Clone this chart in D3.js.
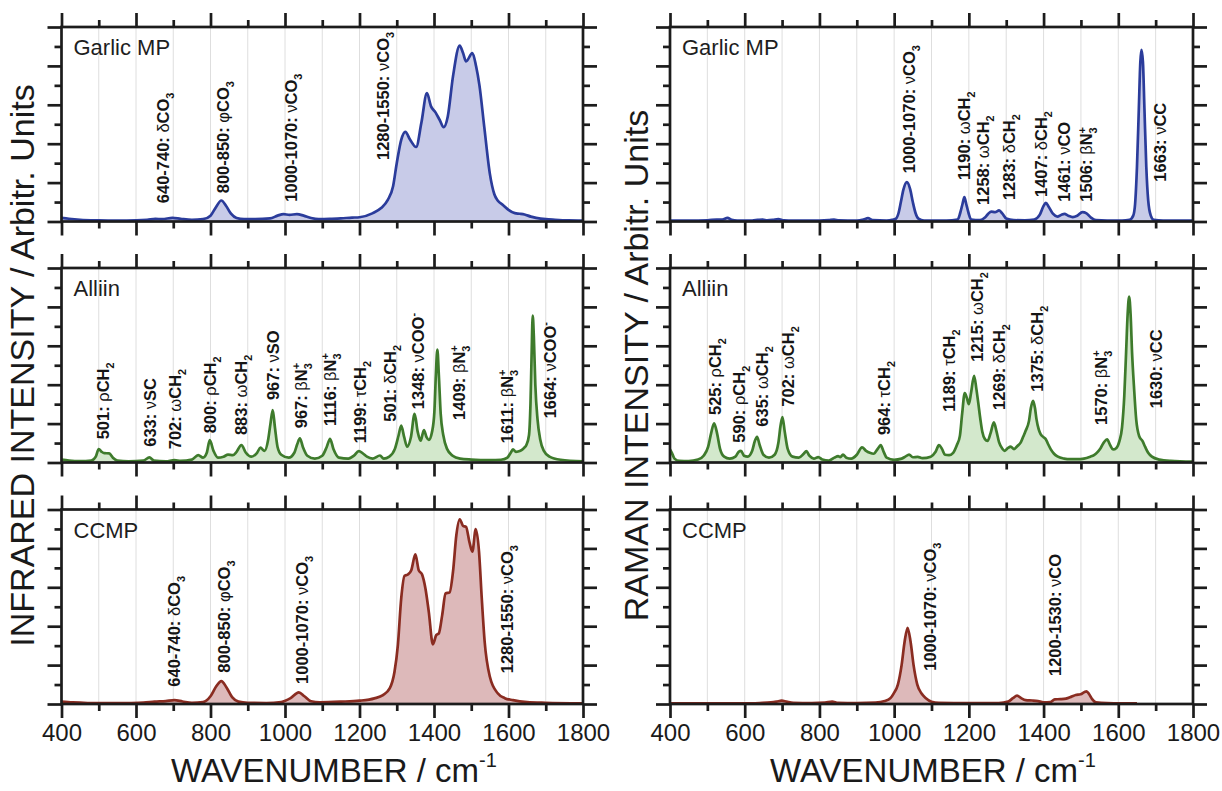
<!DOCTYPE html>
<html>
<head>
<meta charset="utf-8">
<script src="https://cdn.jsdelivr.net/npm/d3@7"></script>
<style>
  body { margin: 0; background: #fff; }
  svg { display: block; }
  text { font-family: "Liberation Sans", Arial, Helvetica, sans-serif; }
</style>
</head>
<body>
<svg id="chart" width="1222" height="791"></svg>
<script>
// ---------------- data: spectra as [wavenumber (cm-1), intensity (arb., 0-10)] ----------------
const wavenumberTicks = [400, 500, 600, 700, 800, 900, 1000, 1100, 1200, 1300, 1400, 1500, 1600, 1700, 1800];
const wavenumberLabels = ["400", "600", "800", "1000", "1200", "1400", "1600", "1800"];
const intensityTicks = [0, 1, 2, 3, 4, 5, 6, 7, 8, 9, 10];

const irGarlic = [[400,0.19],[420,0.14],[450,0.09],[500,0.06],[550,0.05],[600,0.06],[630,0.09],[652,0.14],[670,0.12],[698,0.19],[720,0.14],[750,0.09],[780,0.12],[800,0.3],[815,0.75],[829,1.08],[842,0.8],[855,0.4],[870,0.18],[890,0.12],[920,0.12],[960,0.16],[980,0.3],[996,0.38],[1012,0.34],[1032,0.38],[1050,0.3],[1070,0.18],[1090,0.12],[1120,0.13],[1150,0.16],[1180,0.2],[1200,0.22],[1236,0.43],[1258,0.69],[1276,1.11],[1290,1.8],[1300,3.0],[1312,4.2],[1323,4.61],[1336,4.2],[1352,3.83],[1366,5.06],[1381,6.6],[1392,5.92],[1404,5.61],[1415,5.23],[1426,4.85],[1437,5.4],[1451,7.46],[1469,9.04],[1478,8.66],[1486,8.23],[1503,8.66],[1513,7.98],[1522,7.0],[1535,4.85],[1550,2.45],[1562,1.4],[1571,1.08],[1585,0.85],[1600,0.6],[1617,0.43],[1630,0.4],[1643,0.36],[1660,0.25],[1674,0.19],[1700,0.12],[1725,0.09],[1760,0.06],[1800,0.05]];

const irAlliin = [[400,0.15],[420,0.1],[450,0.07],[480,0.1],[492,0.3],[500,0.69],[508,0.55],[515,0.48],[528,0.47],[538,0.25],[550,0.1],[580,0.06],[620,0.1],[636,0.26],[648,0.1],[680,0.06],[703,0.12],[720,0.08],[750,0.15],[767,0.38],[780,0.25],[790,0.5],[798,1.15],[808,0.6],[820,0.25],[835,0.3],[847,0.4],[860,0.38],[870,0.55],[883,0.9],[895,0.5],[910,0.3],[925,0.5],[934,0.76],[945,0.6],[955,1.2],[961,2.0],[967,2.7],[973,1.8],[980,0.8],[990,0.4],[1010,0.25],[1025,0.5],[1033,0.95],[1040,1.24],[1048,0.8],[1060,0.35],[1080,0.2],[1100,0.35],[1112,0.8],[1121,1.22],[1130,0.7],[1145,0.25],[1170,0.2],[1185,0.35],[1198,0.59],[1210,0.45],[1220,0.3],[1235,0.2],[1255,0.36],[1265,0.2],[1280,0.3],[1295,0.7],[1305,1.4],[1312,1.9],[1320,1.3],[1328,0.81],[1338,1.3],[1348,2.5],[1356,1.6],[1364,1.12],[1373,1.67],[1380,1.3],[1386,1.16],[1395,1.6],[1401,2.6],[1405,4.5],[1409,5.8],[1413,4.5],[1418,2.5],[1425,1.4],[1435,0.7],[1450,0.35],[1470,0.2],[1500,0.15],[1550,0.12],[1580,0.14],[1597,0.25],[1606,0.5],[1612,0.67],[1620,0.55],[1632,0.6],[1642,0.75],[1648,0.9],[1655,1.4],[1659,3.0],[1662,5.5],[1665,7.55],[1668,6.5],[1672,4.0],[1678,2.2],[1685,1.2],[1695,0.6],[1710,0.3],[1740,0.14],[1800,0.06]];

const irCCMP = [[400,0.12],[430,0.08],[470,0.05],[520,0.04],[580,0.05],[620,0.07],[650,0.12],[680,0.15],[703,0.2],[725,0.13],[750,0.06],[780,0.1],[800,0.4],[815,0.9],[829,1.18],[843,0.85],[858,0.35],[875,0.12],[900,0.06],[950,0.05],[990,0.1],[1015,0.3],[1037,0.6],[1052,0.4],[1070,0.14],[1093,0.09],[1150,0.12],[1200,0.17],[1240,0.29],[1263,0.46],[1281,0.8],[1294,1.66],[1303,3.03],[1312,5.43],[1321,6.59],[1330,6.66],[1339,6.88],[1350,7.69],[1359,6.88],[1368,6.66],[1377,5.94],[1386,4.74],[1397,3.07],[1406,3.54],[1413,3.63],[1422,4.57],[1431,5.68],[1442,5.74],[1451,6.8],[1460,8.68],[1469,9.5],[1478,9.16],[1486,9.11],[1495,8.34],[1503,7.83],[1512,8.99],[1521,7.8],[1528,5.5],[1536,3.2],[1550,1.4],[1571,0.55],[1590,0.3],[1612,0.2],[1650,0.1],[1700,0.06],[1800,0.03]];

const ramanGarlic = [[400,0.05],[450,0.05],[500,0.06],[525,0.1],[540,0.1],[554,0.19],[565,0.08],[580,0.05],[620,0.05],[635,0.08],[648,0.1],[660,0.06],[675,0.08],[690,0.12],[705,0.06],[730,0.05],[800,0.05],[825,0.07],[839,0.1],[852,0.06],[900,0.05],[918,0.1],[930,0.17],[942,0.07],[980,0.05],[995,0.08],[1005,0.15],[1012,0.45],[1018,1.0],[1025,1.65],[1034,2.02],[1043,1.65],[1050,1.0],[1057,0.45],[1065,0.15],[1080,0.05],[1140,0.05],[1170,0.1],[1177,0.45],[1183,0.9],[1188,1.25],[1193,0.9],[1199,0.45],[1206,0.1],[1230,0.07],[1243,0.2],[1252,0.4],[1260,0.51],[1270,0.48],[1281,0.57],[1290,0.4],[1300,0.15],[1320,0.07],[1350,0.06],[1375,0.1],[1390,0.35],[1400,0.8],[1406,0.96],[1414,0.75],[1425,0.4],[1437,0.25],[1448,0.35],[1456,0.39],[1466,0.3],[1478,0.23],[1490,0.3],[1504,0.48],[1515,0.42],[1527,0.2],[1540,0.07],[1570,0.05],[1610,0.05],[1630,0.08],[1640,0.3],[1645,0.9],[1650,2.8],[1655,5.8],[1659,8.2],[1662,8.83],[1666,8.2],[1670,5.8],[1675,2.8],[1680,1.1],[1687,0.3],[1695,0.08],[1720,0.05],[1800,0.05]];

const ramanAlliin = [[400,0.67],[405,0.5],[412,0.2],[425,0.08],[450,0.07],[475,0.15],[490,0.35],[502,0.8],[510,1.5],[518,2.01],[526,1.5],[534,0.7],[545,0.3],[560,0.2],[575,0.3],[584,0.55],[590,0.6],[598,0.35],[608,0.3],[620,0.6],[627,1.1],[633,1.32],[640,0.9],[650,0.4],[665,0.25],[680,0.4],[690,1.0],[696,1.9],[701,2.34],[707,1.6],[715,0.7],[728,0.3],[745,0.25],[758,0.45],[765,0.58],[773,0.35],[785,0.2],[797,0.28],[808,0.15],[825,0.1],[840,0.25],[850,0.33],[856,0.28],[863,0.4],[872,0.25],[885,0.2],[900,0.4],[914,0.78],[925,0.6],[935,0.5],[945,0.45],[956,0.7],[964,0.89],[972,0.55],[980,0.25],[1000,0.14],[1020,0.2],[1030,0.3],[1040,0.41],[1050,0.27],[1063,0.29],[1076,0.22],[1098,0.3],[1111,0.55],[1120,0.89],[1128,0.7],[1136,0.4],[1147,0.38],[1158,0.5],[1168,0.9],[1176,1.37],[1182,2.5],[1189,3.57],[1195,3.3],[1200,3.0],[1206,3.6],[1214,4.46],[1220,3.8],[1225,3.09],[1231,2.2],[1236,1.58],[1243,1.2],[1250,1.11],[1258,1.5],[1267,2.06],[1274,1.6],[1281,1.03],[1290,0.7],[1296,0.6],[1305,0.75],[1312,0.82],[1321,0.69],[1330,0.85],[1339,1.03],[1346,1.35],[1352,1.63],[1361,2.14],[1366,2.8],[1372,3.17],[1377,2.8],[1381,2.23],[1387,1.7],[1392,1.46],[1400,1.3],[1406,1.2],[1412,0.95],[1419,0.69],[1428,0.45],[1437,0.31],[1455,0.2],[1472,0.17],[1490,0.17],[1508,0.2],[1525,0.3],[1535,0.38],[1545,0.55],[1553,0.75],[1562,1.05],[1570,1.19],[1578,0.9],[1586,0.67],[1595,0.75],[1603,1.1],[1610,1.8],[1616,3.4],[1621,5.7],[1625,7.6],[1629,8.53],[1633,7.6],[1637,5.6],[1642,3.9],[1648,2.2],[1656,1.35],[1665,1.1],[1672,0.8],[1680,0.5],[1690,0.3],[1710,0.15],[1740,0.08],[1800,0.04]];

const ramanCCMP = [[400,0.03],[500,0.03],[600,0.03],[640,0.05],[670,0.08],[685,0.12],[699,0.17],[712,0.12],[730,0.06],[780,0.05],[815,0.07],[834,0.12],[850,0.06],[900,0.05],[950,0.07],[975,0.15],[990,0.3],[999,0.55],[1010,1.0],[1020,2.0],[1028,3.2],[1036,3.92],[1044,3.2],[1052,2.0],[1062,1.0],[1073,0.55],[1085,0.3],[1100,0.12],[1120,0.06],[1200,0.04],[1280,0.05],[1305,0.12],[1318,0.3],[1329,0.43],[1340,0.3],[1352,0.2],[1370,0.18],[1385,0.15],[1400,0.09],[1418,0.1],[1430,0.24],[1445,0.25],[1460,0.28],[1475,0.38],[1486,0.46],[1499,0.5],[1510,0.62],[1515,0.65],[1522,0.5],[1530,0.25],[1540,0.08],[1570,0.04],[1650,0.03]];

// ---------------- band assignments: [wavenumber, intensity where the label starts, text] ----------------
// "_x" = subscript, "^x" = superscript, Greek letters are drawn in regular weight
const irGarlicBands = [
  [672, 0.94, "640-740: δCO_3"],
  [834, 1.45, "800-850: φCO_3"],
  [1016, 1.02, "1000-1070: νCO_3"],
  [1263, 3.16, "1280-1550: νCO_3"]
];
const irAlliinBands = [
  [511, 1.19, "501: ρCH_2"],
  [639, 0.81, "633: νSC"],
  [706, 0.68, "702: ωCH_2"],
  [800, 1.5, "800: ρCH_2"],
  [883, 1.41, "883: ωCH_2"],
  [968, 3.21, "967: νSO"],
  [1042, 1.76, "967: βN_3^+"],
  [1121, 1.88, "1116: βN_3^+"],
  [1201, 0.99, "1199: τCH_2"],
  [1283, 2.1, "501: δCH_2"],
  [1358, 2.74, "1348: νCOO^-"],
  [1468, 2.19, "1409: βN_3^+"],
  [1597, 0.99, "1611: βN_3^+"],
  [1712, 2.27, "1664: νCOO^-"]
];
const irCCMPBands = [
  [703, 0.89, "640-740: δCO_3"],
  [837, 1.61, "800-850: φCO_3"],
  [1047, 1.03, "1000-1070: νCO_3"],
  [1597, 1.58, "1280-1550: νCO_3"]
];
const ramanGarlicBands = [
  [1041, 2.48, "1000-1070: νCO_3"],
  [1188, 2.13, "1190: ωCH_2"],
  [1238, 0.85, "1258: ωCH_2"],
  [1307, 1.1, "1283: δCH_2"],
  [1393, 1.26, "1407: δCH_2"],
  [1456, 1.02, "1461: νCO"],
  [1515, 1.02, "1506: βN_3^+"],
  [1712, 2.05, "1663: νCC"]
];
const ramanAlliinBands = [
  [520, 2.44, "525: ρCH_2"],
  [584, 1.02, "590: ρCH_2"],
  [646, 1.84, "635: ωCH_2"],
  [717, 2.87, "702: ωCH_2"],
  [972, 1.41, "964: τCH_2"],
  [1146, 2.61, "1189: τCH_2"],
  [1222, 5.18, "1215: ωCH_2"],
  [1281, 2.7, "1269: δCH_2"],
  [1382, 3.64, "1375: δCH_2"],
  [1554, 1.93, "1570: βN_3^+"],
  [1701, 2.79, "1630: νCC"]
];
const ramanCCMPBands = [
  [1095, 1.71, "1000-1070: νCO_3"],
  [1430, 1.44, "1200-1530: νCO"]
];

const sampleNames = ["Garlic MP", "Alliin", "CCMP"];
const yTitles = ["INFRARED INTENSITY / Arbitr. Units", "RAMAN INTENSITY / Arbitr. Units"];

// ---------------- layout & styles ----------------
const columns = [{ x0: 61.5, x1: 583 }, { x0: 670, x1: 1193 }];
const rows = [{ y0: 27, y1: 221.5 }, { y0: 268, y1: 462.5 }, { y0: 509.5, y1: 704 }];
const palette = [
  { line: "#2b3c9b", fill: "#c8cbe8" },
  { line: "#3e7b2c", fill: "#d3e8cc" },
  { line: "#8a2c21", fill: "#ddb9ba" }
];
const frameColor = "#1c1c1c";
const bandFontSize = 16.5;

const panels = [
  { col: 0, row: 0, data: irGarlic, bands: irGarlicBands },
  { col: 0, row: 1, data: irAlliin, bands: irAlliinBands },
  { col: 0, row: 2, data: irCCMP, bands: irCCMPBands },
  { col: 1, row: 0, data: ramanGarlic, bands: ramanGarlicBands },
  { col: 1, row: 1, data: ramanAlliin, bands: ramanAlliinBands },
  { col: 1, row: 2, data: ramanCCMP, bands: ramanCCMPBands }
];

const svg = d3.select("#chart");

// rich label: bold digits/letters, regular Greek, sub/superscripts
function richText(sel, str, size) {
  const tokens = [];
  for (let i = 0; i < str.length; i++) {
    const c = str[i];
    if (c === "_" || c === "^") {
      tokens.push({ t: str[i + 1], kind: c === "_" ? "sub" : "sup" });
      i++;
      continue;
    }
    const kind = /[\u0370-\u03FF]/.test(c) ? "greek" : "base";
    const last = tokens[tokens.length - 1];
    if (last && last.kind === kind) last.t += c;
    else tokens.push({ t: c, kind });
  }
  let shift = 0, prev = null;
  const small = size * 0.66;
  tokens.forEach(tok => {
    const ts = sel.append("tspan").text(tok.t);
    let target = 0;
    if (tok.kind === "sub") target = size * 0.3;
    if (tok.kind === "sup") target = -size * 0.42;
    if (tok.kind === "sub" || tok.kind === "sup") ts.attr("font-size", small);
    if (tok.kind === "greek") ts.attr("font-weight", "normal");
    if (target !== shift) ts.attr("dy", target - shift);
    if (tok.kind === "sup" && prev && prev.kind === "sub") ts.attr("dx", -small * 0.556);
    shift = target;
    prev = tok;
  });
}

panels.forEach((p, idx) => {
  const c = columns[p.col], r = rows[p.row];
  const colors = palette[p.row];
  const x = d3.scaleLinear().domain([400, 1800]).range([c.x0, c.x1]);
  const y = d3.scaleLinear().domain([0, 10]).range([r.y1, r.y0]);
  const g = svg.append("g");

  const clipId = "clip" + idx;
  g.append("clipPath").attr("id", clipId)
    .append("rect").attr("x", c.x0).attr("y", r.y0)
    .attr("width", c.x1 - c.x0).attr("height", r.y1 - r.y0);

  // vertical grid every 100 cm-1
  g.append("g").selectAll("line")
    .data(wavenumberTicks.slice(1, -1))
    .join("line")
    .attr("x1", d => x(d)).attr("x2", d => x(d))
    .attr("y1", r.y0).attr("y2", r.y1)
    .attr("stroke", "#dedede").attr("stroke-width", 1);

  const plot = g.append("g").attr("clip-path", `url(#${clipId})`);
  const area = d3.area().x(d => x(d[0])).y0(y(0)).y1(d => y(d[1])).curve(d3.curveMonotoneX);
  const line = d3.line().x(d => x(d[0])).y(d => y(d[1])).curve(d3.curveMonotoneX);
  plot.append("path").datum(p.data).attr("d", area).attr("fill", colors.fill).attr("stroke", "none");
  plot.append("path").datum(p.data).attr("d", line)
    .attr("fill", "none").attr("stroke", colors.line)
    .attr("stroke-width", 2.7).attr("stroke-linejoin", "round");

  // band labels
  const fs = bandFontSize;
  p.bands.forEach(([wn, level, txt]) => {
    const t = g.append("text")
      .attr("transform", `translate(${x(wn) + fs * 0.36},${y(level)}) rotate(-90)`)
      .attr("font-size", fs).attr("font-weight", "bold").attr("fill", "#151515")
      .attr("text-anchor", "start");
    richText(t, txt, fs);
  });

  // frame
  g.append("rect").attr("x", c.x0).attr("y", r.y0)
    .attr("width", c.x1 - c.x0).attr("height", r.y1 - r.y0)
    .attr("fill", "none").attr("stroke", frameColor).attr("stroke-width", 2.7);

  // outward ticks on all four sides
  const majorX = wavenumberTicks.filter(d => d % 200 === 0);
  const minorX = wavenumberTicks.filter(d => d % 200 !== 0);
  const majorY = intensityTicks.filter(d => d % 2 === 0);
  const minorY = intensityTicks.filter(d => d % 2 !== 0);
  const styleAxis = a => {
    a.select(".domain").remove();
    a.selectAll(".tick line").attr("stroke", frameColor).attr("stroke-width", 2.7);
  };
  const isBottomRow = p.row === 2;
  [[majorX, 14], [minorX, 7]].forEach(([vals, len]) => {
    g.append("g").attr("transform", `translate(0,${r.y0})`)
      .call(d3.axisTop(x).tickValues(vals).tickSize(len).tickFormat(""))
      .call(styleAxis);
    const bottom = g.append("g").attr("transform", `translate(0,${r.y1})`)
      .call(d3.axisBottom(x).tickValues(vals).tickSize(len).tickPadding(6)
        .tickFormat(isBottomRow && len === 14 ? (d => wavenumberLabels[majorX.indexOf(d)]) : ""))
      .call(styleAxis);
    bottom.selectAll(".tick text")
      .attr("font-size", 24).attr("fill", "#1a1a1a")
      .attr("font-family", "'Liberation Sans', Arial, sans-serif");
  });
  [[majorY, 14], [minorY, 7]].forEach(([vals, len]) => {
    g.append("g").attr("transform", `translate(${c.x0},0)`)
      .call(d3.axisLeft(y).tickValues(vals).tickSize(len).tickFormat(""))
      .call(styleAxis);
    g.append("g").attr("transform", `translate(${c.x1},0)`)
      .call(d3.axisRight(y).tickValues(vals).tickSize(len).tickFormat(""))
      .call(styleAxis);
  });

  // sample name
  g.append("text").attr("x", c.x0 + 12).attr("y", r.y0 + 28)
    .attr("font-size", 22).attr("fill", "#1e1e1e")
    .text(sampleNames[p.row]);
});

// axis titles
const yTitleX = [34, 648];
yTitles.forEach((t, i) => {
  svg.append("text")
    .attr("transform", `translate(${yTitleX[i]},${(rows[0].y0 + rows[2].y1) / 2}) rotate(-90)`)
    .attr("text-anchor", "middle").attr("font-size", 34).attr("fill", "#1a1a1a")
    .text(t);
});
const xTitleCenter = [334, 933];
xTitleCenter.forEach(cx => {
  const t = svg.append("text").attr("x", cx).attr("y", 782)
    .attr("text-anchor", "middle").attr("font-size", 33).attr("fill", "#1a1a1a");
  t.append("tspan").text("WAVENUMBER / cm");
  t.append("tspan").attr("font-size", 20).attr("dy", -15).text("-1");
});
</script>
</body>
</html>
